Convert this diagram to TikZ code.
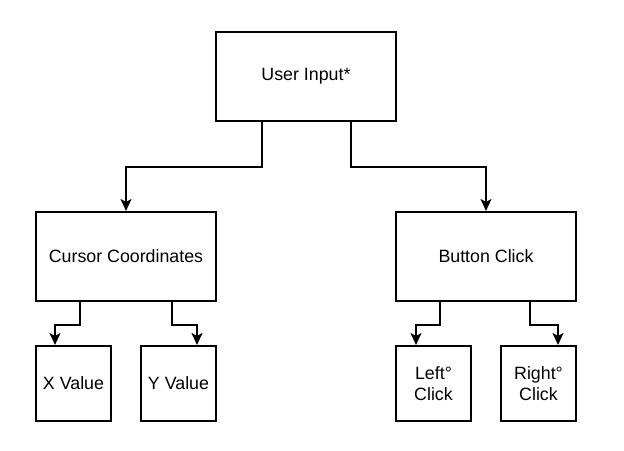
\documentclass[tikz,border=0pt]{standalone}
\usepackage{fontspec}
\setsansfont{Liberation Sans}
\usetikzlibrary{arrows.meta}
\usetikzlibrary{shapes}

\begin{document}
\begin{tikzpicture}[x = 1bp, y = 1bp, font=\sffamily]
	\tikzstyle{bigBox}=[shape = rectangle, draw, line width = 2bp, minimum width = 180bp, minimum height = 89bp, inner sep = 0pt, font = \sffamily\fontsize{17.8bp}{21bp}\selectfont]
	\tikzstyle{smallBox}=[shape = rectangle, draw, line width = 2bp, minimum width = 75bp, minimum height = 75bp, inner sep = 0pt, align = center, font = \sffamily\fontsize{17.8bp}{21bp}\selectfont]
	\tikzstyle{link}=[line width = 2bp, -{Stealth[length = 12bp, width = 11bp, inset = 3bp]}]
	\useasboundingbox (0, 0) rectangle (624, 451);
	\node[bigBox] (input) at (306, 374.5) {User Input*};
	\node[bigBox] (cursor) at (126, 194.5) {Cursor Coordinates};
	\node[bigBox] (button) at (486, 194.5) {Button Click};
	\node[smallBox] (xval) at (73.5, 67.5) {X Value};
	\node[smallBox] (yval) at (178.5, 67.5) {Y Value};
	\node[smallBox] (left) at (433.5, 67.5) {Left°\\Click};
	\node[smallBox] (right) at (538.5, 67.5) {Right°\\Click};
	\draw[link] ([xshift = -44bp]input.south) -- ++(0, -45) -| (cursor.north);
	\draw[link] ([xshift = 45bp]input.south) -- ++(0, -45) -| (button.north);
	\draw[link] ([xshift = -46bp]cursor.south) -- ++(0, -23) -| ([xshift = -18.5bp]xval.north);
	\draw[link] ([xshift = 46bp]cursor.south) -- ++(0, -23) -| ([xshift = 18.5bp]yval.north);
	\draw[link] ([xshift = -46bp]button.south) -- ++(0, -23) -| ([xshift = -17.5bp]left.north);
	\draw[link] ([xshift = 44bp]button.south) -- ++(0, -23) -| ([xshift = 19.5bp]right.north);
\end{tikzpicture}
\end{document}
